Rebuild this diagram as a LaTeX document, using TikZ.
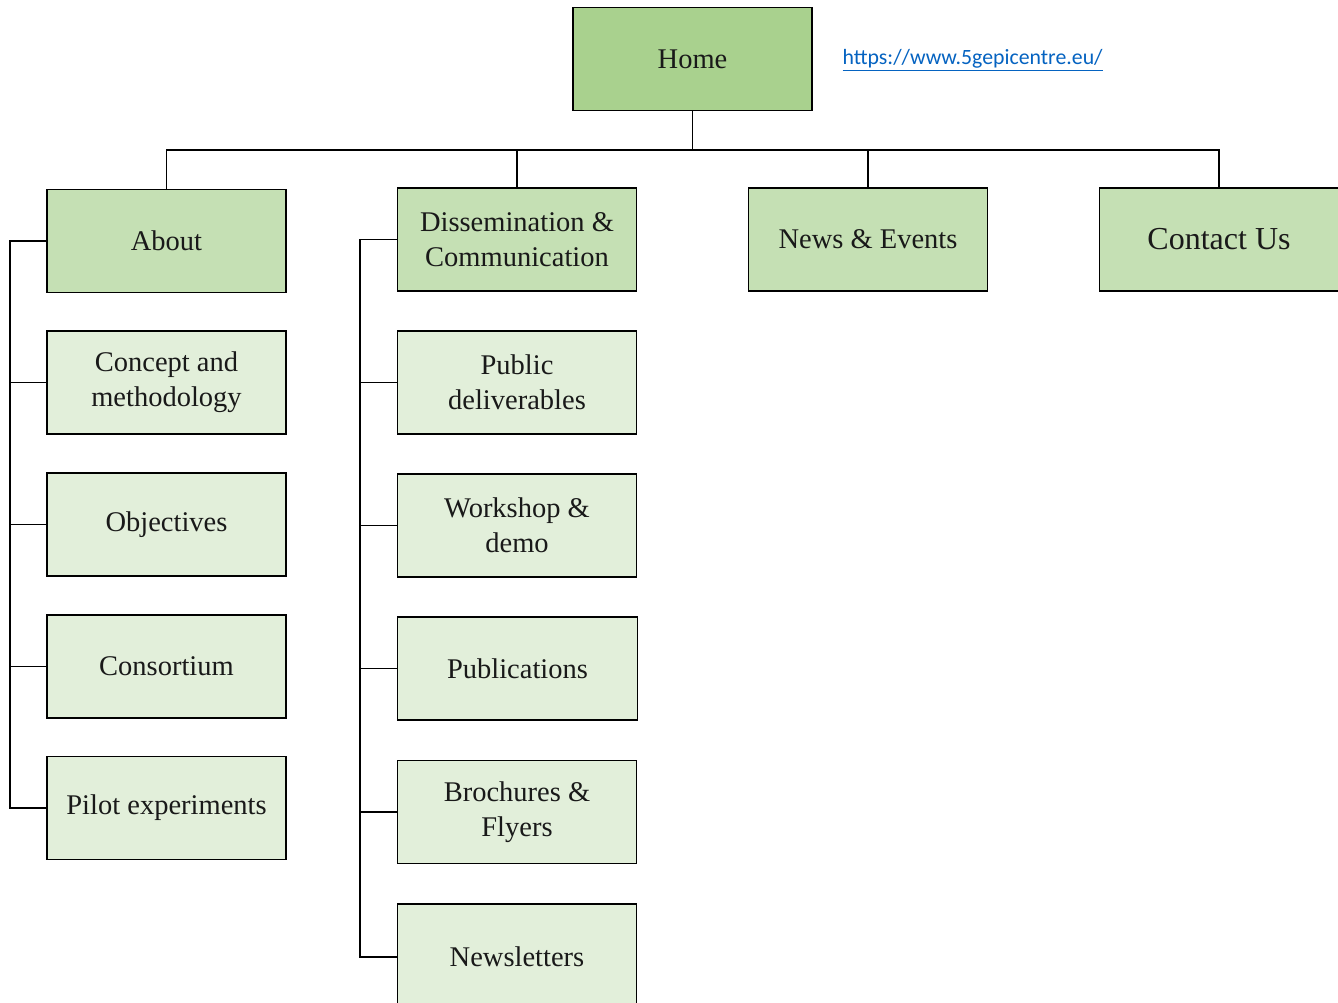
\documentclass[tikz,border=0pt]{standalone}
\usepackage{fontspec}
\setmainfont{Liberation Serif}
\newfontfamily\linkfont{Carlito}
\begin{document}
\begin{tikzpicture}[x=1pt,y=-1pt,
  box/.style={draw=black,line width=1.8pt,minimum width=239pt,minimum height=103pt,inner sep=0pt,align=center,
    font=\fontsize{28.5}{35}\selectfont,text=black!90},
  top/.style={box,fill=topgreen},
  lev1/.style={box,fill=midgreen},
  leaf/.style={box,fill=lightgreen},
  conn/.style={line width=1.8pt,black}]
\definecolor{topgreen}{HTML}{A9D18E}
\definecolor{midgreen}{HTML}{C5E0B4}
\definecolor{lightgreen}{HTML}{E2EFDA}
\definecolor{linkblue}{HTML}{0563C1}
\useasboundingbox (0,0) rectangle (1338,1002);
\clip (0,0) rectangle (1338,1002);
\fill[white] (0,0) rectangle (1338,1002);
% top
\node[top] (home) at (692.5,59) {Home};
\node[anchor=west,text=linkblue,font=\linkfont\fontsize{21.8}{24}\selectfont] (link) at (839,60) {\underline{https://www.5gepicentre.eu/}};
% level 1
\node[lev1] (about) at (166.5,241) {About};
\node[lev1] (diss) at (517,239.5) {Dissemination \&\\Communication};
\node[lev1] (news) at (868,239.5) {News \& Events};
\node[lev1,font=\fontsize{32}{38}\selectfont] (contact) at (1219,239.5) {Contact Us};
% column 1
\node[leaf] (concept) at (166.5,382.5) {Concept and\\methodology};
\node[leaf] (objectives) at (166.5,524.5) {Objectives};
\node[leaf] (consortium) at (166.5,666.5) {Consortium};
\node[leaf] (pilot) at (166.5,808) {Pilot experiments};
% column 2
\node[leaf] (public) at (517,382.5) {Public\\deliverables};
\node[leaf] (workshop) at (517,525.5) {Workshop \&\\demo};
\node[leaf,minimum width=240pt] (publications) at (517.5,668.5) {Publications};
\node[leaf] (brochures) at (517,812) {Brochures \&\\Flyers};
\node[leaf,minimum height=106pt] (newsletters) at (517,957) {Newsletters};
% connectors
\coordinate (hub) at (692.5,150);
\draw[conn] (home.south) -- (hub);
\draw[conn] (about.north) |- (hub);
\draw[conn] (diss.north) |- (hub);
\draw[conn] (news.north) |- (hub);
\draw[conn] (contact.north) |- (hub);
\coordinate (c1) at (10,0);
\coordinate (c2) at (360,0);
\draw[conn] (about.west) -| (c1 |- pilot.west) -- (pilot.west);
\foreach \n in {concept,objectives,consortium}
  \draw[conn] (c1 |- \n.west) -- (\n.west);
\draw[conn] (diss.west) -| (c2 |- newsletters.west) -- (newsletters.west);
\foreach \n in {public,workshop,publications,brochures}
  \draw[conn] (c2 |- \n.west) -- (\n.west);
\end{tikzpicture}
\end{document}
